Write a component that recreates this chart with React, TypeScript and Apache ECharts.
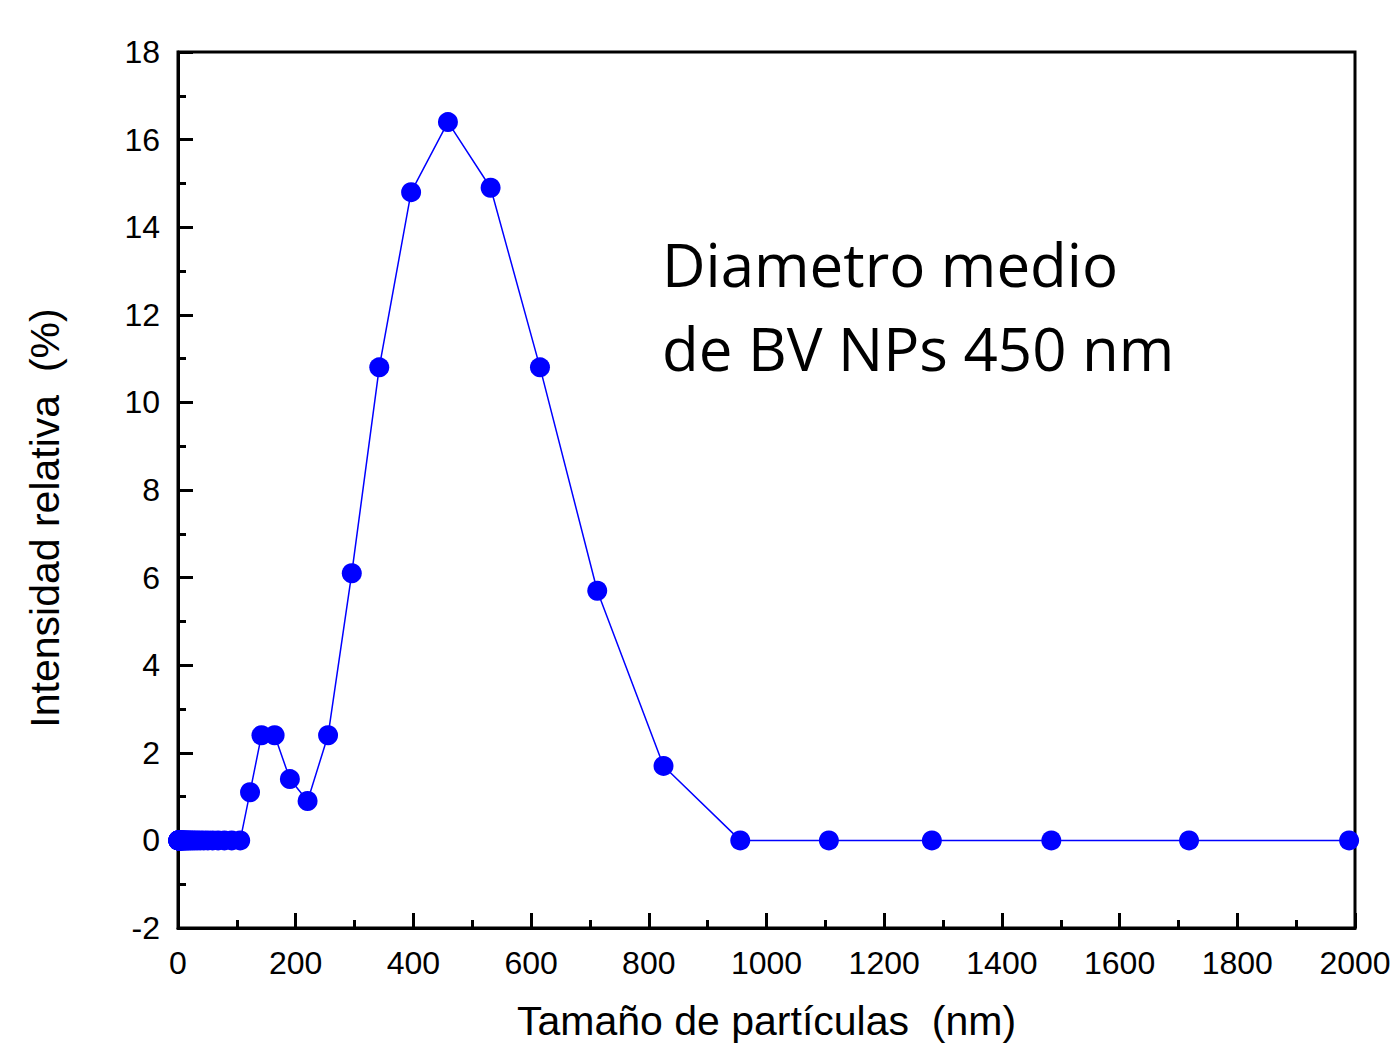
import React, { useEffect, useRef } from "react";
import * as echarts from "echarts";

const sizes = [
  0.4, 0.46, 0.54, 0.62, 0.72, 0.83, 0.96, 1.1, 1.3, 1.5, 1.7, 2.0, 2.3, 2.7, 3.1, 3.6, 4.2, 4.8, 5.6, 6.5,
  7.5, 8.7, 10.1, 11.7, 13.5, 15.7, 18.2, 21.0, 24.4, 28.2, 32.7, 37.8, 43.8, 50.7, 58.8, 68.1, 78.8, 91.3,
  105.7, 122.4, 141.8, 164.2, 190.1, 220.2, 255.0, 295.3, 342.0, 396.1, 458.7, 531.2, 615.1, 712.4, 825.0,
  955.4, 1106, 1281, 1484, 1718, 1990,
];
const intensity = [
  0, 0, 0, 0, 0, 0, 0, 0, 0, 0, 0, 0, 0, 0, 0, 0, 0, 0, 0, 0,
  0, 0, 0, 0, 0, 0, 0, 0, 0, 0, 0, 0, 0, 0, 0, 0, 0, 0,
  0, 1.1, 2.4, 2.4, 1.4, 0.9, 2.4, 6.1, 10.8, 14.8, 16.4, 14.9, 10.8, 5.7, 1.7,
  0, 0, 0, 0, 0, 0,
];
const xTitle = "Tamaño de partículas  (nm)";
const yTitle = "Intensidad relativa  (%)";
const noteLines = ["Diametro medio", "de BV NPs 450 nm"];

export default function App() {
  const ref = useRef<HTMLDivElement>(null);
  useEffect(() => {
    if (!ref.current) return;
    const chart = echarts.init(ref.current, null, { renderer: "svg" });
    const data = sizes.map((s, i) => [s, intensity[i]]);
    const tickStyle = { color: "#000", width: 3 };
    chart.setOption({
      animation: false,
      backgroundColor: "#fff",
      grid: {
        left: 178,
        top: 52,
        right: 35,
        bottom: 117,
        outerBoundsMode: "none",
        containLabel: false,
        show: true,
        borderColor: "#000",
        borderWidth: 3,
        backgroundColor: "transparent",
      },
      xAxis: {
        type: "value",
        min: 0,
        max: 2000,
        interval: 200,
        axisLine: { show: true, onZero: false, lineStyle: tickStyle },
        axisTick: { show: true, inside: true, length: 15, lineStyle: tickStyle },
        minorTick: { show: true, splitNumber: 2, length: 8, lineStyle: tickStyle },
        splitLine: { show: false },
        axisLabel: {
          color: "#000",
          fontSize: 32,
          fontFamily: "Liberation Sans",
          margin: 19,
          formatter: (v: number) => String(v),
        },
        name: xTitle,
        nameLocation: "middle",
        nameGap: 72,
        nameTextStyle: { color: "#000", fontSize: 41, fontFamily: "Liberation Sans" },
      },
      yAxis: {
        type: "value",
        min: -2,
        max: 18,
        interval: 2,
        axisLine: { show: true, onZero: false, lineStyle: tickStyle },
        axisTick: { show: true, inside: true, length: 15, lineStyle: tickStyle },
        minorTick: { show: true, splitNumber: 2, length: 8, lineStyle: tickStyle },
        splitLine: { show: false },
        axisLabel: {
          color: "#000",
          fontSize: 32,
          fontFamily: "Liberation Sans",
          margin: 18,
          formatter: (v: number) => String(v),
        },
      },
      graphic: [
        {
          type: "text",
          x: 45,
          y: 518,
          rotation: Math.PI / 2,
          style: {
            text: yTitle,
            fill: "#000",
            font: "41px 'Liberation Sans'",
            textAlign: "center",
            textVerticalAlign: "middle",
          },
        },
        {
          type: "text",
          left: 662,
          top: 222,
          style: {
            text: noteLines.join("\n"),
            fill: "#000",
            font: "60px 'Open Sans'",
            lineHeight: 84,
          },
        },
      ],
      series: [
        {
          type: "line",
          data,
          symbol: "circle",
          symbolSize: 20,
          lineStyle: { color: "#0000ff", width: 1.5 },
          itemStyle: { color: "#0000ff" },
          z: 3,
        },
      ],
    });
    return () => chart.dispose();
  }, []);
  return (
    <div
      ref={ref}
      style={{ position: "fixed", left: 0, top: 0, width: 1390, height: 1045 }}
    />
  );
}
